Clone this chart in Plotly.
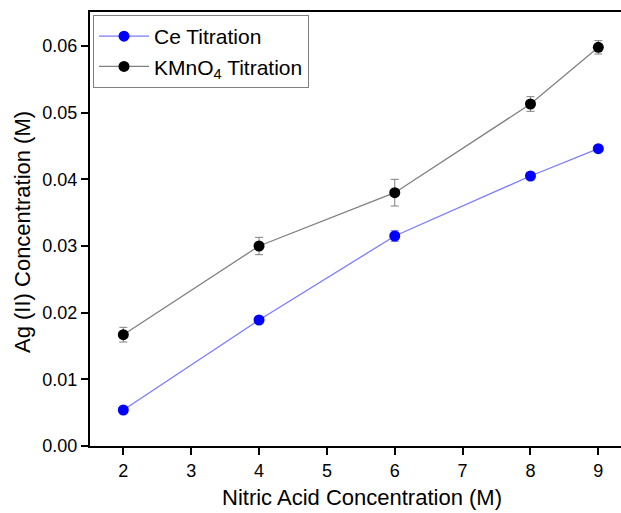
import plotly.graph_objects as go

nitric = [2, 4, 6, 8, 9]
ce_vals = [0.0054, 0.0189, 0.0315, 0.0405, 0.0446]
ce_err = [0.0003, 0.0003, 0.0008, 0.0003, 0.0003]
kmno4_vals = [0.0167, 0.0300, 0.0380, 0.0513, 0.0598]
kmno4_err = [0.0011, 0.0013, 0.0020, 0.0011, 0.0010]

x_ticks = [2, 3, 4, 5, 6, 7, 8, 9]
y_ticks = [0.00, 0.01, 0.02, 0.03, 0.04, 0.05, 0.06]

x_title = "Nitric Acid Concentration (M)"
y_title = "Ag (II) Concentration (M)"

FONT = "Arial, 'Liberation Sans', sans-serif"

L, R, T, B = 90, 0, 12, 67
W, H = 621, 513
PW, PH = W - L - R, H - T - B

fig = go.Figure()
fig.add_trace(go.Scatter(
    x=nitric, y=ce_vals, mode="lines+markers", name="Ce Titration",
    line=dict(color="rgba(100,100,255,0.85)", width=1.3),
    marker=dict(color="#0000ff", size=11),
    error_y=dict(type="data", array=ce_err, visible=True, color="#7a7aff", thickness=1, width=4),
))
fig.add_trace(go.Scatter(
    x=nitric, y=kmno4_vals, mode="lines+markers", name="KMnO<sub>4</sub> Titration",
    line=dict(color="#808080", width=1.3),
    marker=dict(color="#000000", size=11),
    error_y=dict(type="data", array=kmno4_err, visible=True, color="#808080", thickness=1, width=4),
))

fig.update_layout(
    width=W, height=H, autosize=False,
    margin=dict(l=L, r=R, t=T, b=B, autoexpand=False),
    paper_bgcolor="white", plot_bgcolor="white",
    font=dict(family=FONT, color="black"),
    showlegend=True,
    legend=dict(
        x=3 / PW, y=1 - 3 / PH, xanchor="left", yanchor="top",
        bordercolor="#808080", borderwidth=1, bgcolor="white",
        font=dict(size=21, family=FONT), itemwidth=50,
        tracegroupgap=0,
    ),
    xaxis=dict(
        range=[1.509, 9.334], tickmode="array", tickvals=x_ticks,
        ticktext=[str(v) for v in x_ticks],
        showgrid=False, zeroline=False, automargin=False,
        showline=True, linecolor="black", linewidth=2, mirror=True,
        ticks="outside", ticklen=7, tickwidth=2, tickcolor="black",
        tickfont=dict(size=18, family=FONT),
    ),
    yaxis=dict(
        range=[0, 0.0651], tickmode="array", tickvals=y_ticks,
        ticktext=["%.2f" % v for v in y_ticks],
        showgrid=False, zeroline=False, automargin=False,
        showline=True, linecolor="black", linewidth=2, mirror=False,
        ticks="outside", ticklen=7, tickwidth=2, tickcolor="black",
        tickfont=dict(size=18, family=FONT),
    ),
    annotations=[
        dict(text=x_title, xref="paper", yref="paper",
             x=(362 - L) / PW, y=(PH + T - 497) / PH,
             xanchor="center", yanchor="middle", showarrow=False,
             font=dict(size=22, family=FONT, color="black")),
        dict(text=y_title, xref="paper", yref="paper",
             x=(22 - L) / PW, y=(PH + T - 232) / PH, textangle=-90,
             xanchor="center", yanchor="middle", showarrow=False,
             font=dict(size=22, family=FONT, color="black")),
    ],
)

fig.write_html(
    "out.html",
    config={"responsive": False, "displayModeBar": False},
    post_script="document.body.style.margin='0px';document.body.style.overflow='hidden';",
)
